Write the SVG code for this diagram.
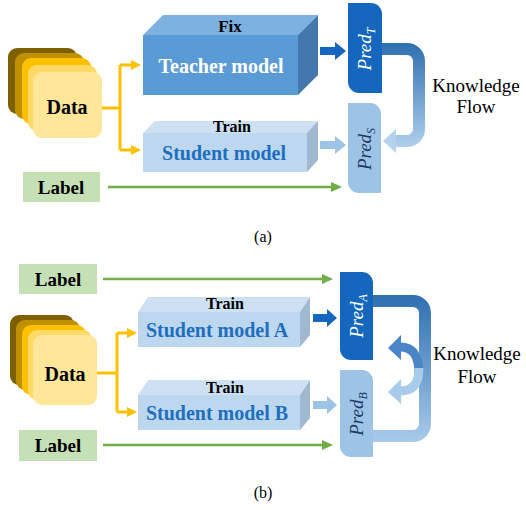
<svg xmlns="http://www.w3.org/2000/svg" width="526" height="510" viewBox="0 0 526 510">
<defs>
<linearGradient id="kfa" gradientUnits="userSpaceOnUse" x1="0" y1="43" x2="0" y2="150">
<stop offset="0" stop-color="#2E6FB0"/><stop offset="1" stop-color="#B4D2EE"/>
</linearGradient>
<linearGradient id="kfb" gradientUnits="userSpaceOnUse" x1="0" y1="295" x2="0" y2="442">
<stop offset="0" stop-color="#2E6FB0"/><stop offset="1" stop-color="#A9CBEA"/>
</linearGradient>
</defs>
<style>
text{text-anchor:middle;fill:#000}
.b{font-weight:bold}
.yl{stroke:#FFC000;stroke-width:3;fill:none}
.ya{fill:#FFC000}
.gl{stroke:#70AD47;stroke-width:2.5;fill:none}
.ga{fill:#70AD47}
.lab{fill:#C5E0B4}
.tf{fill:#5B9BD5}.tt{fill:#7DB1E1}.ts{fill:#4477AE}
.sf{fill:#BDD7EE}.st{fill:#CEE1F3}.ss{fill:#A0B8D0}
.dk{fill:#1467BD}.lt{fill:#9DC3E6}
.stx{fill:#1E6FBE;font-weight:bold;font-size:20px}
.pd{font-style:italic;font-size:19px}
</style>
<g font-family="'Liberation Serif', 'DejaVu Serif', serif">

<!-- (a) -->
<g id="data-a">
<rect x="8" y="48" width="69" height="66" rx="9" fill="#7F6000"/>
<rect x="15" y="53" width="69" height="66" rx="9" fill="#BF9000"/>
<rect x="22" y="58" width="69" height="66" rx="9" fill="#FFC000"/>
<rect x="28" y="65" width="69" height="66" rx="9" fill="#FFD966"/>
<rect x="33" y="72" width="69" height="66" rx="9" fill="#FFE699"/>
<text x="67" y="114" class="b" font-size="20">Data</text>
</g>
<g id="teacher">
<rect x="143" y="35" width="155" height="60" class="tf"/>
<polygon points="143,35 163,15 318,15 298,35" class="tt"/>
<polygon points="298,35 318,15 318,75 298,95" class="ts"/>
<text x="230" y="32" class="b" font-size="17">Fix</text>
<text x="221" y="73" class="b" font-size="20" style="fill:#fff">Teacher model</text>
</g>
<g id="student-a">
<rect x="143" y="133" width="164" height="39" class="sf"/>
<polygon points="143,133 155,121 318,121 307,133" class="st"/>
<polygon points="307,133 318,121 318,160 307,172" class="ss"/>
<text x="232" y="132" class="b" font-size="16">Train</text>
<text x="224" y="160" class="stx">Student model</text>
</g>
<g id="label-a">
<rect x="23" y="172" width="77" height="30" class="lab"/>
<text x="61" y="194" class="b" font-size="19">Label</text>
</g>
<g id="predT">
<path d="M348,3 H371 A11,11 0 0 1 382,14 V93 H359 A11,11 0 0 1 348,82 Z" class="dk"/>
<text transform="translate(371,49) rotate(-90)" class="pd" style="fill:#fff">Pred<tspan font-size="12" dy="4">T</tspan></text>
</g>
<g id="predS">
<path d="M348,103 H370 A11,11 0 0 1 381,114 V193 H359 A11,11 0 0 1 348,182 Z" class="lt"/>
<text transform="translate(371,149) rotate(-90)" class="pd" style="fill:#1F3864">Pred<tspan font-size="12" dy="4">S</tspan></text>
</g>
<g id="kf-a-label">
<text x="476" y="92" font-size="19">Knowledge</text>
<text x="476" y="113" font-size="19">Flow</text>
</g>
<text x="263" y="242" font-size="16">(a)</text>

<!-- (b) -->
<g id="label-b1">
<rect x="19" y="264" width="78" height="30" class="lab"/>
<text x="58" y="286" class="b" font-size="19">Label</text>
</g>
<g id="data-b">
<rect x="10" y="315" width="64" height="70" rx="9" fill="#7F6000"/>
<rect x="16" y="320" width="64" height="70" rx="9" fill="#BF9000"/>
<rect x="22" y="325" width="64" height="70" rx="9" fill="#FFC000"/>
<rect x="28" y="330" width="64" height="70" rx="9" fill="#FFD966"/>
<rect x="33" y="335" width="64" height="70" rx="9" fill="#FFE699"/>
<text x="65" y="381" class="b" font-size="20">Data</text>
</g>
<g id="studentA">
<rect x="138" y="312" width="162" height="35" class="sf"/>
<polygon points="138,312 148,297 310,297 300,312" class="st"/>
<polygon points="300,312 310,297 310,335 300,347" class="ss"/>
<text x="225" y="309" class="b" font-size="16">Train</text>
<text x="217" y="337" class="stx">Student model A</text>
</g>
<g id="studentB">
<rect x="138" y="395" width="162" height="35" class="sf"/>
<polygon points="138,395 148,380 310,380 300,395" class="st"/>
<polygon points="300,395 310,380 310,418 300,430" class="ss"/>
<text x="225" y="393" class="b" font-size="16">Train</text>
<text x="217" y="420" class="stx">Student model B</text>
</g>
<g id="label-b2">
<rect x="19" y="430" width="78" height="31" class="lab"/>
<text x="58" y="452" class="b" font-size="19">Label</text>
</g>
<g id="predA">
<path d="M340,272 H362 A11,11 0 0 1 373,283 V360 H351 A11,11 0 0 1 340,349 Z" class="dk"/>
<text transform="translate(363,316) rotate(-90)" class="pd" style="fill:#fff">Pred<tspan font-size="12" dy="4">A</tspan></text>
</g>
<g id="predB">
<path d="M340,370 H362 A11,11 0 0 1 373,381 V457 H351 A11,11 0 0 1 340,446 Z" class="lt"/>
<text transform="translate(363,414) rotate(-90)" class="pd" style="fill:#1F3864">Pred<tspan font-size="12" dy="4">B</tspan></text>
</g>
<g id="kf-b-label">
<text x="477" y="360" font-size="19">Knowledge</text>
<text x="477" y="383" font-size="19">Flow</text>
</g>
<text x="263" y="498" font-size="16">(b)</text>
</g>

<g id="connectors">
<!-- (a) -->
<path d="M102,108 H120 M120,65 V150 M120,65 H132 M120,150 H132" class="yl"/>
<polygon points="131,60 141,65 131,70" class="ya"/>
<polygon points="131,145 141,150 131,155" class="ya"/>
<path d="M108,187 H332" class="gl"/>
<polygon points="331,182 342,187 331,192" class="ga"/>
<polygon points="320,47 335,47 335,42 346,51 335,60 335,55 320,55" class="dk"/>
<polygon points="320,141 335,141 335,136 346,145 335,154 335,149 320,149" class="lt"/>
<path d="M382,49 H407 A12,12 0 0 1 419,61 V129 A12,12 0 0 1 407,141 H394" fill="none" stroke="url(#kfa)" stroke-width="12"/>
<polygon points="396,129 383,141 396,153" fill="#B4D2EE"/>
<!-- (b) -->
<path d="M97,373 H117 M117,333 V412 M117,333 H128 M117,412 H128" class="yl"/>
<polygon points="127,328 137,333 127,338" class="ya"/>
<polygon points="127,407 137,412 127,417" class="ya"/>
<path d="M103,279 H323" class="gl"/>
<polygon points="322,274 333,279 322,284" class="ga"/>
<path d="M103,445 H323" class="gl"/>
<polygon points="322,440 333,445 322,450" class="ga"/>
<polygon points="313,314 327,314 327,309 337,318 327,327 327,322 313,322" class="dk"/>
<polygon points="313,401 327,401 327,396 337,405 327,414 327,409 313,409" class="lt"/>
<path d="M373,301 H413 A12,12 0 0 1 425,313 V424 A12,12 0 0 1 413,436 H373" fill="none" stroke="url(#kfb)" stroke-width="12"/>
<path d="M419,374 C419,356 413,347 400,347" fill="none" stroke="#4A86C5" stroke-width="9"/>
<polygon points="401,335 388,348 401,360" fill="#4A86C5"/>
<path d="M419,368 C419,383 413,391 400,391" fill="none" stroke="#A9CBEA" stroke-width="9"/>
<polygon points="401,379 388,392 401,404" fill="#A9CBEA"/>
</g>
</svg>
